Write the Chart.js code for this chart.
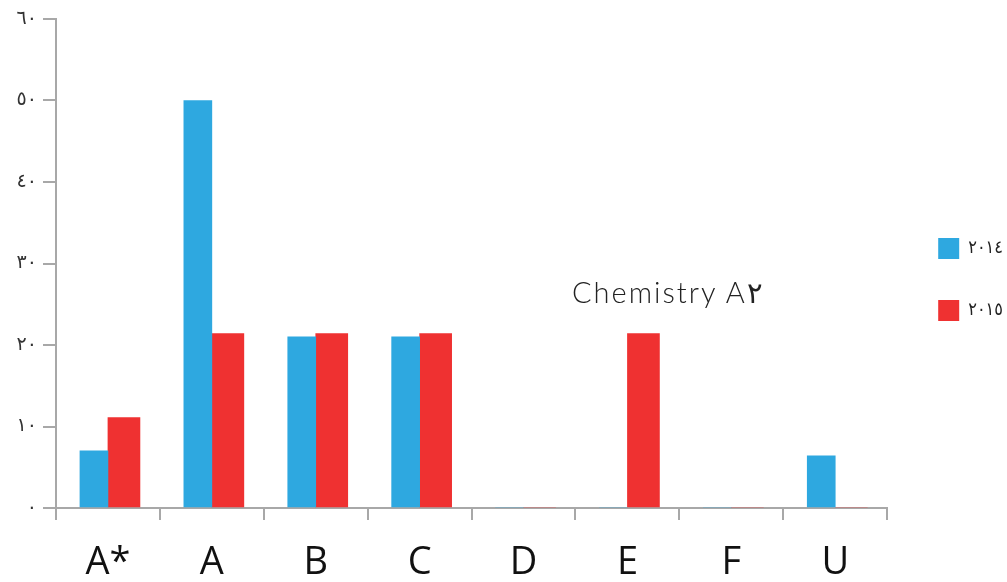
<!DOCTYPE html>
<html>
<head>
<meta charset="utf-8">
<script src="https://cdn.jsdelivr.net/npm/chart.js@4.4.1/dist/chart.umd.min.js"></script>
<style>
  html, body { margin: 0; padding: 0; background: #fff; }
  #wrap { position: relative; width: 1007px; height: 582px; }
  #chartTitle {
    position: absolute; left: 572px; top: 274px;
    font: 300 29px Lato, "DejaVu Sans", sans-serif;
    letter-spacing: 2px;
    color: #222; white-space: nowrap;
  }
</style>
</head>
<body>
<div id="wrap">
  <canvas id="gradesChart" width="1007" height="582"></canvas>
  <div id="chartTitle">Chemistry A٢</div>
</div>
<script>
// grades and the share of students per grade
const grades = ["A*", "A", "B", "C", "D", "E", "F", "U"];
const seriesNames = ["٢٠١٤", "٢٠١٥"];
const values2014 = [7, 50, 21, 21, 0, 0, 0, 6.4];
const values2015 = [11.1, 21.4, 21.4, 21.4, 0, 21.4, 0, 0];
const yTickLabels = ["٠", "١٠", "٢٠", "٣٠", "٤٠", "٥٠", "٦٠"];

const axisGrey = "#a8a8a8";

document.addEventListener("DOMContentLoaded", function () {
    const ctx = document.getElementById("gradesChart").getContext("2d");

    new Chart(ctx, {
        type: "bar",
        data: {
            labels: grades,
            datasets: [{
                label: seriesNames[0],
                data: values2014,
                backgroundColor: "#2ea8e0",
                barThickness: 28
            }, {
                label: seriesNames[1],
                data: values2015,
                backgroundColor: "#ef3131",
                barThickness: 32
            }]
        },
        options: {
            responsive: false,
            animation: false,
            layout: { padding: { top: 19, right: -6, bottom: 0, left: 0 } },
            plugins: {
                tooltip: { enabled: false },
                legend: {
                    position: "right",
                    fullSize: false,
                    // empty title only used as a spacer above the items
                    title: { display: true, text: "", font: { size: 10 }, padding: { top: 10, bottom: 10 } },
                    labels: {
                        boxWidth: 21,
                        boxHeight: 21,
                        padding: 41,
                        color: "#222",
                        font: { family: "'DejaVu Sans Condensed', 'DejaVu Sans'", size: 18 }
                    }
                }
            },
            scales: {
                x: {
                    grid: { offset: true, drawOnChartArea: false, tickLength: 12, color: axisGrey, lineWidth: 2 },
                    border: { color: axisGrey, width: 2 },
                    ticks: {
                        color: "#111",
                        padding: 20,
                        font: { family: "'Open Sans'", size: 38 }
                    },
                    afterFit: function (scale) { scale.height = 74; }
                },
                y: {
                    min: 0,
                    max: 60,
                    ticks: {
                        stepSize: 10,
                        padding: 6,
                        color: "#333",
                        font: { family: "'DejaVu Sans'", size: 19 },
                        callback: function (value, index) { return yTickLabels[index]; }
                    },
                    grid: { drawOnChartArea: false, tickLength: 13, color: axisGrey, lineWidth: 2 },
                    border: { color: axisGrey, width: 2 },
                    afterFit: function (scale) { scale.width = 56; }
                },
                gap: {
                    position: "right",
                    grid: { display: false },
                    border: { display: false },
                    ticks: { display: false },
                    afterFit: function (scale) { scale.width = 10; }
                }
            }
        }
    });
});
</script>
</body>
</html>
